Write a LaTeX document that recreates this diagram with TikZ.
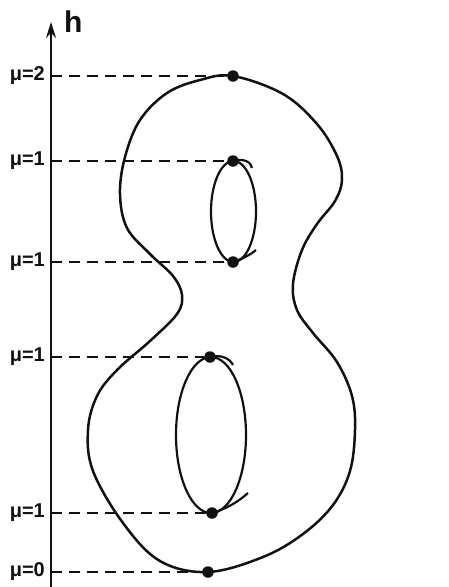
\documentclass[tikz,border=0pt]{standalone}
\usepackage{fontspec}
\setmainfont{Liberation Sans}
\usetikzlibrary{arrows.meta}
\definecolor{cInk}{HTML}{111111}
\tikzset{
  curveLn/.style={draw=cInk, line width=2.5pt, line join=round},
  loopLn/.style={draw=cInk, line width=2.2pt},
  levelLn/.style={draw=cInk, line width=1.7pt, dash pattern=on 11pt off 7pt},
  crit/.style={circle, fill=cInk, inner sep=0pt, minimum size=11.5pt},
  muLbl/.style={font=\bfseries\fontsize{20}{20}\selectfont, text=cInk, anchor=east, inner sep=0pt},
  axisLn/.style={draw=cInk, line width=2.2pt, -{Stealth[length=16pt, width=10pt]}},
}
\begin{document}
\begin{tikzpicture}[x=1pt, y=-1pt]
\useasboundingbox (0,0) rectangle (449,587);

% ========== AXIS ==========
\coordinate (axB) at (51,587);
\coordinate (axT) at (51,22);
\draw[axisLn] (axB) -- (axT);
\node[font=\bfseries\fontsize{30}{30}\selectfont, text=cInk, anchor=base west, inner sep=0pt]
  (hLbl) at (64,32) {h};

% ========== OUTER SURFACE ==========
\draw[curveLn] plot[smooth cycle, tension=0.6] coordinates {
  (233,76) (283,94) (317,124) (337,156) (342,180) (335,201) (317,224)
  (302,250) (293,284) (297,310) (313,333) (337,362) (352,396) (355,430)
  (350,471) (333,505) (303,534) (263,557) (208,572) (160,561) (123,523)
  (93,471) (88,430) (97,396) (117,370) (150,341) (177,314) (182,295)
  (173,276) (150,254) (127,228) (120,194) (125,157) (140,120) (167,93)
  (200,80)};

% ========== INNER LOOPS ==========
\draw[loopLn] (233.5,211.5) ellipse [x radius=22.5, y radius=50.5];
\draw[loopLn] (211,435) ellipse [x radius=35, y radius=78];

% ========== CRITICAL POINTS ==========
\foreach \nm/\x/\y in {cTop/233/76, cA/233/161, cB/233/262,
                       cC/210/357, cD/212/513, cBot/208/572} {
  \node[crit] (\nm) at (\x,\y) {};
}

% loop tails
\draw[loopLn] (cA.center) .. controls (244,158) and (251,162) .. (252,168);
\draw[loopLn] (cB.center) .. controls (242,259) and (250,255) .. (256,250);
\draw[loopLn] (cC.center) .. controls (222,354) and (230,359) .. (233,365);
\draw[loopLn] (cD.center) .. controls (226,509) and (238,502) .. (248,493);

% ========== LEVELS ==========
\foreach \nm/\y/\t in {cTop/76/2, cA/161/1, cB/262/1,
                       cC/357/1, cD/513/1, cBot/572/0} {
  \coordinate (lv\nm) at (51,\y);
  \node[muLbl] (lb\nm) at (45,\y) {μ=\t};
  \draw[levelLn] (lv\nm) -- (\nm);
}

\end{tikzpicture}
\end{document}
